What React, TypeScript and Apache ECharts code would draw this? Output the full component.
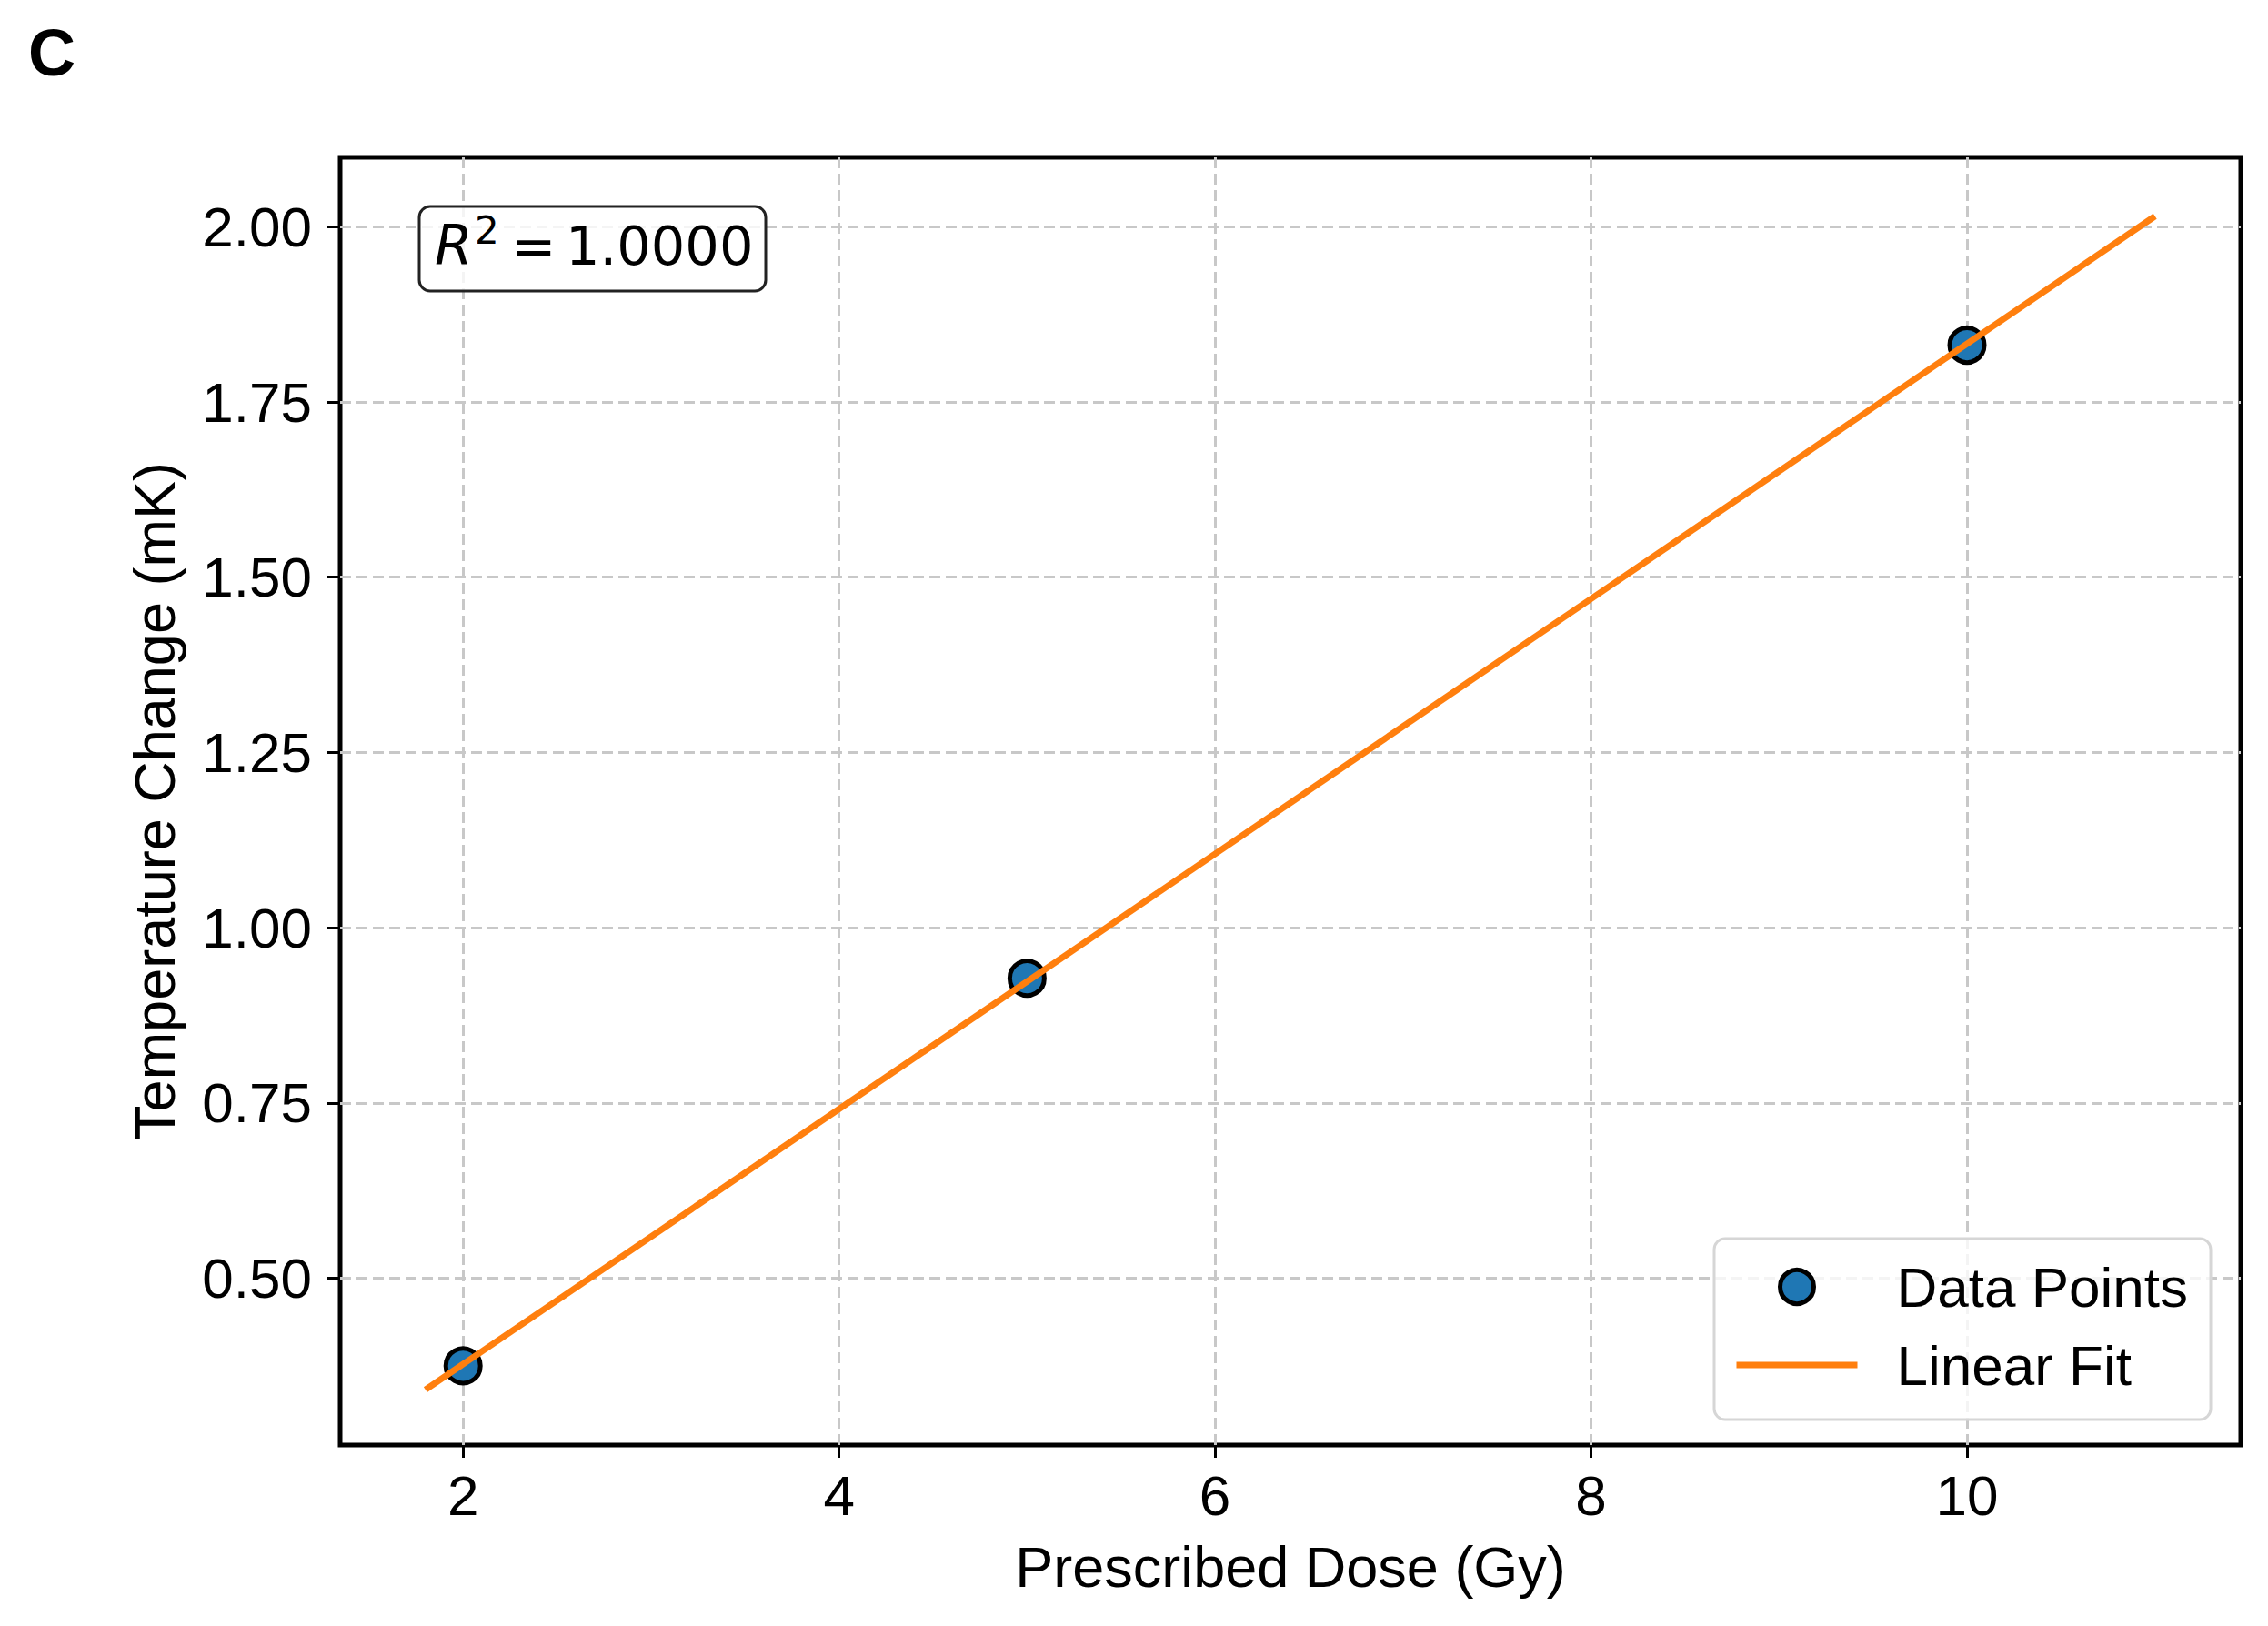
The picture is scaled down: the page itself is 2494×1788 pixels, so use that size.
import React, { useEffect, useRef } from 'react';
import * as echarts from 'echarts';

// ---- data ----
const doses = [2, 5, 10];
const tempChanges = [0.375, 0.928, 1.831];
const fitDoses = [1.8, 11.0];
const fitTemps = [0.341, 2.015];
const xTicks = [2, 4, 6, 8, 10];
const yTicks = [0.5, 0.75, 1.0, 1.25, 1.5, 1.75, 2.0];
const xRange = [1.346, 11.456];
const yRange = [0.262, 2.099];
const seriesNames = ['Data Points', 'Linear Fit'];
const xTitle = 'Prescribed Dose (Gy)';
const yTitle = 'Temperature Change (mK)';
const panelLabel = 'C';
const rSquaredText = '1.0000';

const FONT = '"Liberation Sans", Arial, Helvetica, sans-serif';
const MATH = '"DejaVu Sans", sans-serif';

export default function App() {
  const ref = useRef<HTMLDivElement>(null);

  useEffect(() => {
    if (!ref.current) return;
    const chart = echarts.init(ref.current, null, { renderer: 'svg' });

    const option: any = {
      animation: false,
      backgroundColor: '#ffffff',
      grid: {
        left: 374,
        top: 173,
        width: 2090,
        height: 1416,
        show: true,
        borderColor: '#000',
        borderWidth: 5,
        backgroundColor: 'transparent',
      },
      xAxis: {
        type: 'value',
        min: xRange[0],
        max: xRange[1],
        axisLine: { show: false },
        axisTick: {
          show: true,
          customValues: xTicks,
          length: 14,
          lineStyle: { color: '#000', width: 3 },
        },
        axisLabel: {
          customValues: xTicks,
          margin: 24,
          fontSize: 62,
          color: '#000',
          fontFamily: FONT,
        },
        splitLine: {
          show: true,
          lineStyle: { color: '#c8c8c8', width: 3, type: [12, 6] },
        },
        name: xTitle,
        nameLocation: 'middle',
        nameGap: 102,
        nameTextStyle: { fontSize: 63, color: '#000', fontFamily: FONT },
      },
      yAxis: {
        type: 'value',
        min: yRange[0],
        max: yRange[1],
        axisLine: { show: false },
        axisTick: {
          show: true,
          customValues: yTicks,
          length: 14,
          lineStyle: { color: '#000', width: 3 },
        },
        axisLabel: {
          customValues: yTicks,
          margin: 31,
          fontSize: 62,
          color: '#000',
          fontFamily: FONT,
          formatter: (v: number) => v.toFixed(2),
        },
        splitLine: {
          show: true,
          lineStyle: { color: '#c8c8c8', width: 3, type: [12, 6] },
        },
        name: yTitle,
        nameLocation: 'middle',
        nameGap: 173,
        nameTextStyle: { fontSize: 63, color: '#000', fontFamily: FONT },
      },
      legend: {
        left: 1885,
        top: 1362,
        orient: 'vertical',
        align: 'left',
        itemWidth: 133,
        itemHeight: 37,
        itemGap: 24,
        padding: [22, 25, 29, 21],
        backgroundColor: 'rgba(255,255,255,0.8)',
        borderColor: '#d6d6d6',
        borderWidth: 3,
        borderRadius: 12,
        selectedMode: false,
        textStyle: {
          fontSize: 62,
          color: '#000',
          fontFamily: FONT,
          padding: [0, 0, 0, 38],
        },
        data: [
          {
            name: seriesNames[0],
            icon: 'circle',
            itemStyle: { color: '#1f77b4', borderColor: '#000', borderWidth: 5 },
          },
          {
            name: seriesNames[1],
            lineStyle: { width: 7, color: '#ff7f0e' },
            itemStyle: { color: 'transparent', borderWidth: 0, opacity: 0 },
          },
        ],
      },
      series: [
        {
          name: seriesNames[0],
          type: 'scatter',
          data: doses.map((d, i) => [d, tempChanges[i]]),
          symbol: 'circle',
          symbolSize: 38,
          itemStyle: { color: '#1f77b4', borderColor: '#000', borderWidth: 5, opacity: 1 },
          z: 3,
        },
        {
          name: seriesNames[1],
          type: 'line',
          data: fitDoses.map((d, i) => [d, fitTemps[i]]),
          symbol: 'none',
          lineStyle: { color: '#ff7f0e', width: 7 },
          itemStyle: { color: '#ff7f0e' },
          z: 4,
        },
      ],
      graphic: [
        {
          type: 'text',
          x: 31,
          y: 58,
          style: {
            text: panelLabel,
            fontFamily: FONT,
            fontWeight: 'bold',
            fontSize: 72,
            fill: '#000',
            align: 'left',
            verticalAlign: 'middle',
            textAlign: 'left',
            textVerticalAlign: 'middle',
          },
        },
        {
          type: 'rect',
          z: 10,
          shape: { x: 461, y: 227, width: 381, height: 93, r: 12 },
          style: { fill: 'rgba(255,255,255,0.8)', stroke: '#222', lineWidth: 3 },
        },
        {
          type: 'text',
          z: 11,
          x: 478,
          y: 270,
          style: {
            text: 'R',
            fontFamily: MATH,
            fontStyle: 'italic',
            fontSize: 60,
            fill: '#000',
            align: 'left',
            verticalAlign: 'middle',
            textAlign: 'left',
            textVerticalAlign: 'middle',
          },
        },
        {
          type: 'text',
          z: 11,
          x: 522,
          y: 253,
          style: {
            text: '2',
            fontFamily: MATH,
            fontSize: 42,
            fill: '#000',
            align: 'left',
            verticalAlign: 'middle',
            textAlign: 'left',
            textVerticalAlign: 'middle',
          },
        },
        {
          type: 'text',
          z: 11,
          x: 562,
          y: 270,
          style: {
            text: '=',
            fontFamily: MATH,
            fontSize: 59,
            fill: '#000',
            align: 'left',
            verticalAlign: 'middle',
            textAlign: 'left',
            textVerticalAlign: 'middle',
          },
        },
        {
          type: 'text',
          z: 11,
          x: 622,
          y: 270,
          style: {
            text: rSquaredText,
            fontFamily: MATH,
            fontSize: 59,
            fill: '#000',
            align: 'left',
            verticalAlign: 'middle',
            textAlign: 'left',
            textVerticalAlign: 'middle',
          },
        },
      ],
    };

    chart.setOption(option);
    return () => {
      chart.dispose();
    };
  }, []);

  return (
    <div
      ref={ref}
      style={{ position: 'fixed', left: 0, top: 0, width: 2494, height: 1788, background: '#fff' }}
    />
  );
}
